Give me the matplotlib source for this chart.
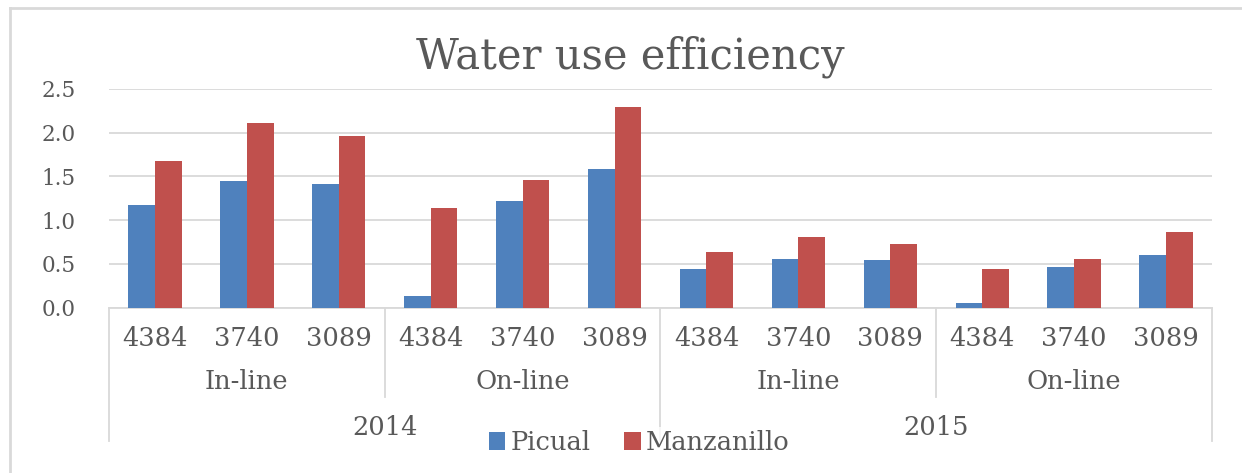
import matplotlib.pyplot as plt
import matplotlib.lines as mlines
import numpy as np

plt.rcParams['font.family'] = ['DejaVu Serif']

years = ["2014", "2015"]
systems = ["In-line", "On-line"]
densities = ["4384", "3740", "3089"]
picual = [1.17, 1.45, 1.41, 0.13, 1.22, 1.59, 0.44, 0.55, 0.54, 0.05, 0.46, 0.60]
manzanillo = [1.68, 2.11, 1.96, 1.14, 1.46, 2.29, 0.63, 0.81, 0.73, 0.44, 0.55, 0.86]

blue = "#4F81BD"
red = "#C0504D"
grid = "#D9D9D9"
txt = "#595959"

W, H = 1242, 473
fig = plt.figure(figsize=(W / 100, H / 100), dpi=100, facecolor="white")
# plot area in pixels: left 109, right 1212, top 89, bottom 307.5
ax_top, ax_bot = 89.0, 307.5
axh = ax_bot - ax_top
ax = fig.add_axes([109 / W, 1 - ax_bot / H, 1103 / W, axh / H])

n = len(picual)
x = np.arange(n)
bw = 0.29
ax.bar(x - bw / 2, picual, bw, color=blue, label="Picual", zorder=3)
ax.bar(x + bw / 2, manzanillo, bw, color=red, label="Manzanillo", zorder=3)

ax.set_xlim(-0.5, n - 0.5)
ax.set_ylim(0, 2.5)
yt = np.arange(0, 2.51, 0.5)
ax.set_yticks(yt)
ax.set_yticklabels([f"{v:.1f}" for v in yt])
ax.yaxis.grid(True, color=grid, linewidth=1.3, zorder=0)
ax.tick_params(axis='y', length=0, labelsize=15.5, colors=txt, pad=24)
ax.set_xticks([])
for s in ["top", "right", "left"]:
    ax.spines[s].set_visible(False)
ax.spines["bottom"].set_color(grid)
ax.spines["bottom"].set_linewidth(1.3)

fig.text(630 / W, 1 - 68 / H, "Water use efficiency", fontsize=30, color=txt,
         ha="center", va="baseline")

# multi-level category axis (offsets in pixels below the plot area)
def yax(py):
    return (ax_bot - py) / axh

tr = ax.get_xaxis_transform()
fs = 18.5
k = len(densities)
for i, lab in enumerate(densities * (len(years) * len(systems))):
    ax.text(i, yax(338), lab, transform=tr, ha="center", va="center",
            fontsize=fs, color=txt)

for j in range(len(years) * len(systems)):
    cx = j * k + (k - 1) / 2
    ax.text(cx, yax(381.5), systems[j % len(systems)], transform=tr,
            ha="center", va="center", fontsize=fs, color=txt)
    if j % len(systems) != 0:
        xb = j * k - 0.5
        ax.plot([xb, xb], [0, yax(397)], transform=tr, color=grid, lw=1.3,
                clip_on=False)

ky = k * len(systems)
for j, yr in enumerate(years):
    cx = j * ky + (ky - 1) / 2
    ax.text(cx, yax(427), yr, transform=tr, ha="center", va="center",
            fontsize=fs, color=txt)
for j in range(len(years) + 1):
    xb = j * ky - 0.5
    ax.plot([xb, xb], [0, yax(441)], transform=tr, color=grid, lw=1.3,
            clip_on=False)

leg = fig.legend(loc="center", bbox_to_anchor=(639 / W, 1 - 442.5 / H), ncol=2,
                 frameon=True, fontsize=fs, handlelength=0.65, handleheight=0.65,
                 handletextpad=0.2, columnspacing=1.3, labelcolor=txt,
                 borderpad=0.1, borderaxespad=0)
leg.get_frame().set_facecolor("white")
leg.get_frame().set_edgecolor("none")

# outer chart border (top and left edges visible, rest cropped)
bx, by = 10 / W, 1 - 8 / H
fig.add_artist(mlines.Line2D([bx, 1], [by, by], transform=fig.transFigure,
                             color=grid, lw=2))
fig.add_artist(mlines.Line2D([bx, bx], [0, by], transform=fig.transFigure,
                             color=grid, lw=2))

fig.savefig("out.png", dpi=100, facecolor="white")
